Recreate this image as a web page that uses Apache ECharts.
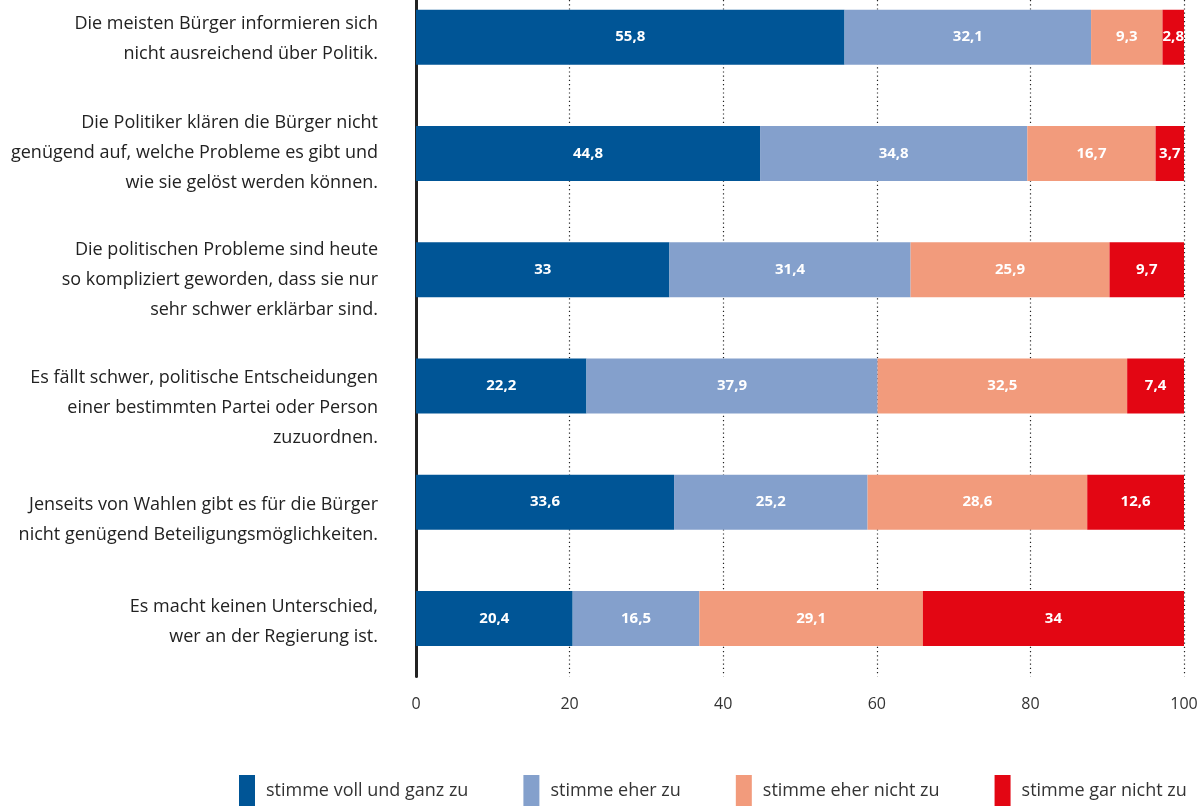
<!DOCTYPE html>
<html>
<head>
<meta charset="utf-8">
<script src="https://cdn.jsdelivr.net/npm/echarts@6/dist/echarts.min.js"></script>
<style>html,body{margin:0;padding:0;background:#fff;}#c{width:1200px;height:807px;}</style>
</head>
<body>
<div id="c"></div>
<script>
const categories = [
  "Die meisten Bürger informieren sich\nnicht ausreichend über Politik.",
  "Die Politiker klären die Bürger nicht\ngenügend auf, welche Probleme es gibt und\nwie sie gelöst werden können.",
  "Die politischen Probleme sind heute\nso kompliziert geworden, dass sie nur\nsehr schwer erklärbar sind.",
  "Es fällt schwer, politische Entscheidungen\neiner bestimmten Partei oder Person\nzuzuordnen.",
  "Jenseits von Wahlen gibt es für die Bürger\nnicht genügend Beteiligungsmöglichkeiten.",
  "Es macht keinen Unterschied,\nwer an der Regierung ist."
];
const seriesNames = ["stimme voll und ganz zu", "stimme eher zu", "stimme eher nicht zu", "stimme gar nicht zu"];
const vollUndGanz = [55.8, 44.8, 33, 22.2, 33.6, 20.4];
const eher = [32.1, 34.8, 31.4, 37.9, 25.2, 16.5];
const eherNicht = [9.3, 16.7, 25.9, 32.5, 28.6, 29.1];
const garNicht = [2.8, 3.7, 9.7, 7.4, 12.6, 34];
const xTicks = [0, 20, 40, 60, 80, 100];

const colors = ["#005596", "#84a0cc", "#f29b7c", "#e30613"];
const labelShift = [2, -1, 10, 22, 18, 3];

const rich = { t: { fontSize: 18, lineHeight: 30, color: '#222', fontFamily: 'Open Sans', align: 'right' } };
labelShift.forEach(d => {
  const h = Math.abs(d) * 2;
  if (h > 0) rich['g' + h] = { fontSize: 1, lineHeight: h, height: h };
});

function labelFormatter(value, index) {
  const lines = value.split('\n').map(l => '{t|' + l + '}');
  const d = labelShift[index] || 0;
  const h = Math.abs(d) * 2;
  if (d > 0) lines.unshift('{g' + h + '| }');
  if (d < 0) lines.push('{g' + h + '| }');
  return lines.join('\n');
}

const allData = [vollUndGanz, eher, eherNicht, garNicht];
const series = allData.map((arr, k) => ({
  name: seriesNames[k],
  type: 'bar',
  stack: 'total',
  barWidth: 55,
  data: arr,
  itemStyle: { color: colors[k] },
  label: {
    show: true,
    position: 'inside',
    color: '#fff',
    fontFamily: 'Open Sans',
    fontWeight: 'bold',
    fontSize: 15,
    formatter: p => String(p.value).replace('.', ',')
  }
}));

const chart = echarts.init(document.getElementById('c'), null, { renderer: 'canvas' });
chart.setOption({
  animation: false,
  backgroundColor: '#fff',
  textStyle: { fontFamily: 'Open Sans' },
  grid: { left: 416, right: 16, top: -21, height: 697.6, containLabel: false, outerBoundsMode: 'none' },
  xAxis: {
    type: 'value', min: 0, max: 100, interval: 20,
    axisLine: { show: false },
    axisTick: { show: false },
    splitLine: { show: true, lineStyle: { color: '#222', width: 1.2, type: [1.2, 3] } },
    axisLabel: { color: '#333', fontSize: 16, margin: 20, fontFamily: 'Open Sans',
      formatter: v => xTicks.includes(v) ? String(v) : '' }
  },
  yAxis: {
    type: 'category', inverse: true, data: categories,
    axisLine: { show: true, lineStyle: { color: '#222', width: 3 } },
    axisTick: { show: false },
    axisLabel: { color: '#222', fontSize: 18, lineHeight: 30, margin: 38, align: 'right', fontFamily: 'Open Sans',
      formatter: labelFormatter, rich: rich }
  },
  legend: {
    left: 239, top: 775, padding: 0,
    icon: 'rect', itemWidth: 16, itemHeight: 31, itemGap: 55,
    textStyle: { color: '#333', fontSize: 18, fontFamily: 'Open Sans', padding: [0, 0, 0, 6] },
    data: seriesNames
  },
  series: series
});
</script>
</body>
</html>
